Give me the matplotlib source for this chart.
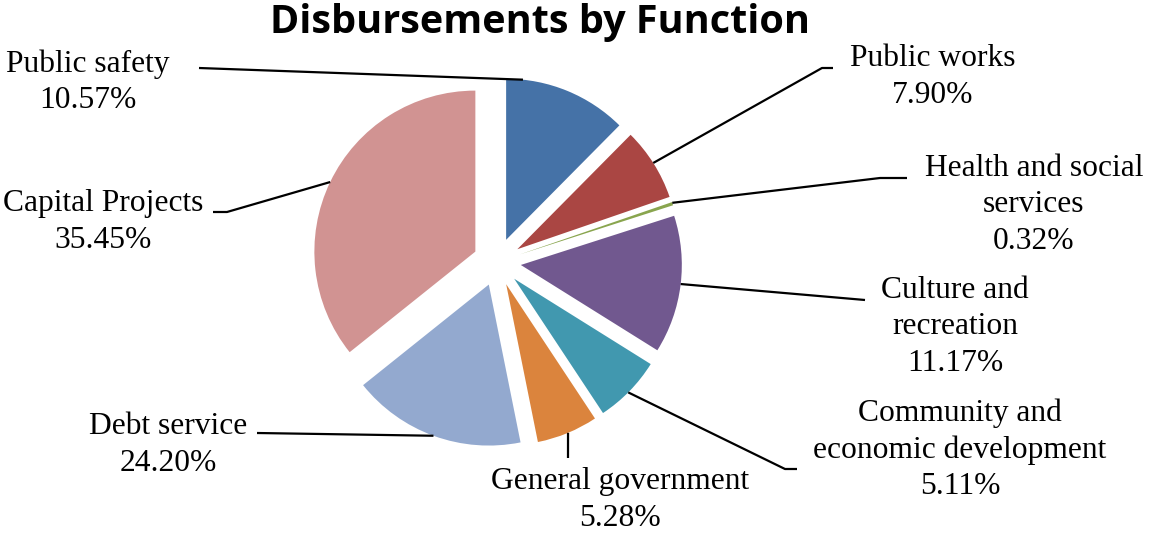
import numpy as np
import matplotlib
matplotlib.use("Agg")
import matplotlib.pyplot as plt

# ---- data ----
categories = ["Public safety", "Public works", "Health and social\nservices",
              "Culture and\nrecreation", "Community and\neconomic development",
              "General government", "Debt service", "Capital Projects"]
# slice sizes as drawn in the reference (percent of the circle)
slice_values = [12.42, 7.31, 0.33, 13.83, 6.81, 6.14, 17.42, 35.74]
# percentages printed on the labels
label_pcts = ["10.57%", "7.90%", "0.32%", "11.17%", "5.11%", "5.28%", "24.20%", "35.45%"]
colors = ["#4572A7", "#AA4643", "#89A54E", "#71588F", "#4198AF", "#DB843D", "#93A9CF", "#D19392"]

# ---- layout (pixel coordinates, y measured from the top) ----
W, H = 1151, 533
pie_center = (497, 262)
pie_radius = 161
explode_px = 24
# angle (deg, ccw from +x) on each wedge's arc where the leader line attaches
anchor_angles = [84.0, 32.4, 18.7, -6.8, -44.9, -67.4, -110.1, 154.4]
# label block centres
label_pos = [(88, 82), (933, 77), (1034, 205), (955, 327), (960, 450),
             (620, 500), (168, 445), (103, 222)]
# extra leader points (from label side, before the anchor)
leader_pts = [[(199, 68)], [(833, 68), (822, 68)], [(907, 178), (880, 178)],
              [(865, 300)], [(797, 469), (785, 469)], [(568, 458)],
              [(257, 433)], [(213, 212), (227, 212)]]

fig = plt.figure(figsize=(W / 100, H / 100), dpi=100)
ax = fig.add_axes([0, 0, 1, 1])

def Y(y):
    return H - y

wedges, _ = ax.pie(slice_values, colors=colors, startangle=90, counterclock=False,
                   explode=[explode_px] * len(slice_values),
                   center=(pie_center[0], Y(pie_center[1])), radius=pie_radius,
                   wedgeprops=dict(linewidth=0), normalize=True)
ax.set_xlim(0, W)
ax.set_ylim(0, H)
ax.set_aspect("equal")
ax.axis("off")

serif = ["Liberation Serif", "DejaVu Serif"]
for i, w in enumerate(wedges):
    cx, cy = w.center
    a = np.deg2rad(anchor_angles[i])
    ax_, ay_ = cx + w.r * np.cos(a), cy + w.r * np.sin(a)
    xs = [p[0] for p in leader_pts[i]] + [ax_]
    ys = [Y(p[1]) for p in leader_pts[i]] + [ay_]
    ax.plot(xs, ys, color="black", lw=1.6, solid_capstyle="butt")
    tx, ty = label_pos[i]
    ax.text(tx, Y(ty), categories[i] + "\n" + label_pcts[i], ha="center", va="center",
            multialignment="center", fontsize=22.7, family=serif, linespacing=1.32,
            color="black")

ax.text(540, Y(23), "Disbursements by Function", ha="center", va="center",
        fontsize=28.5, fontweight="bold", family=["Open Sans", "DejaVu Sans"], color="black")

fig.savefig("out.png", dpi=100)
